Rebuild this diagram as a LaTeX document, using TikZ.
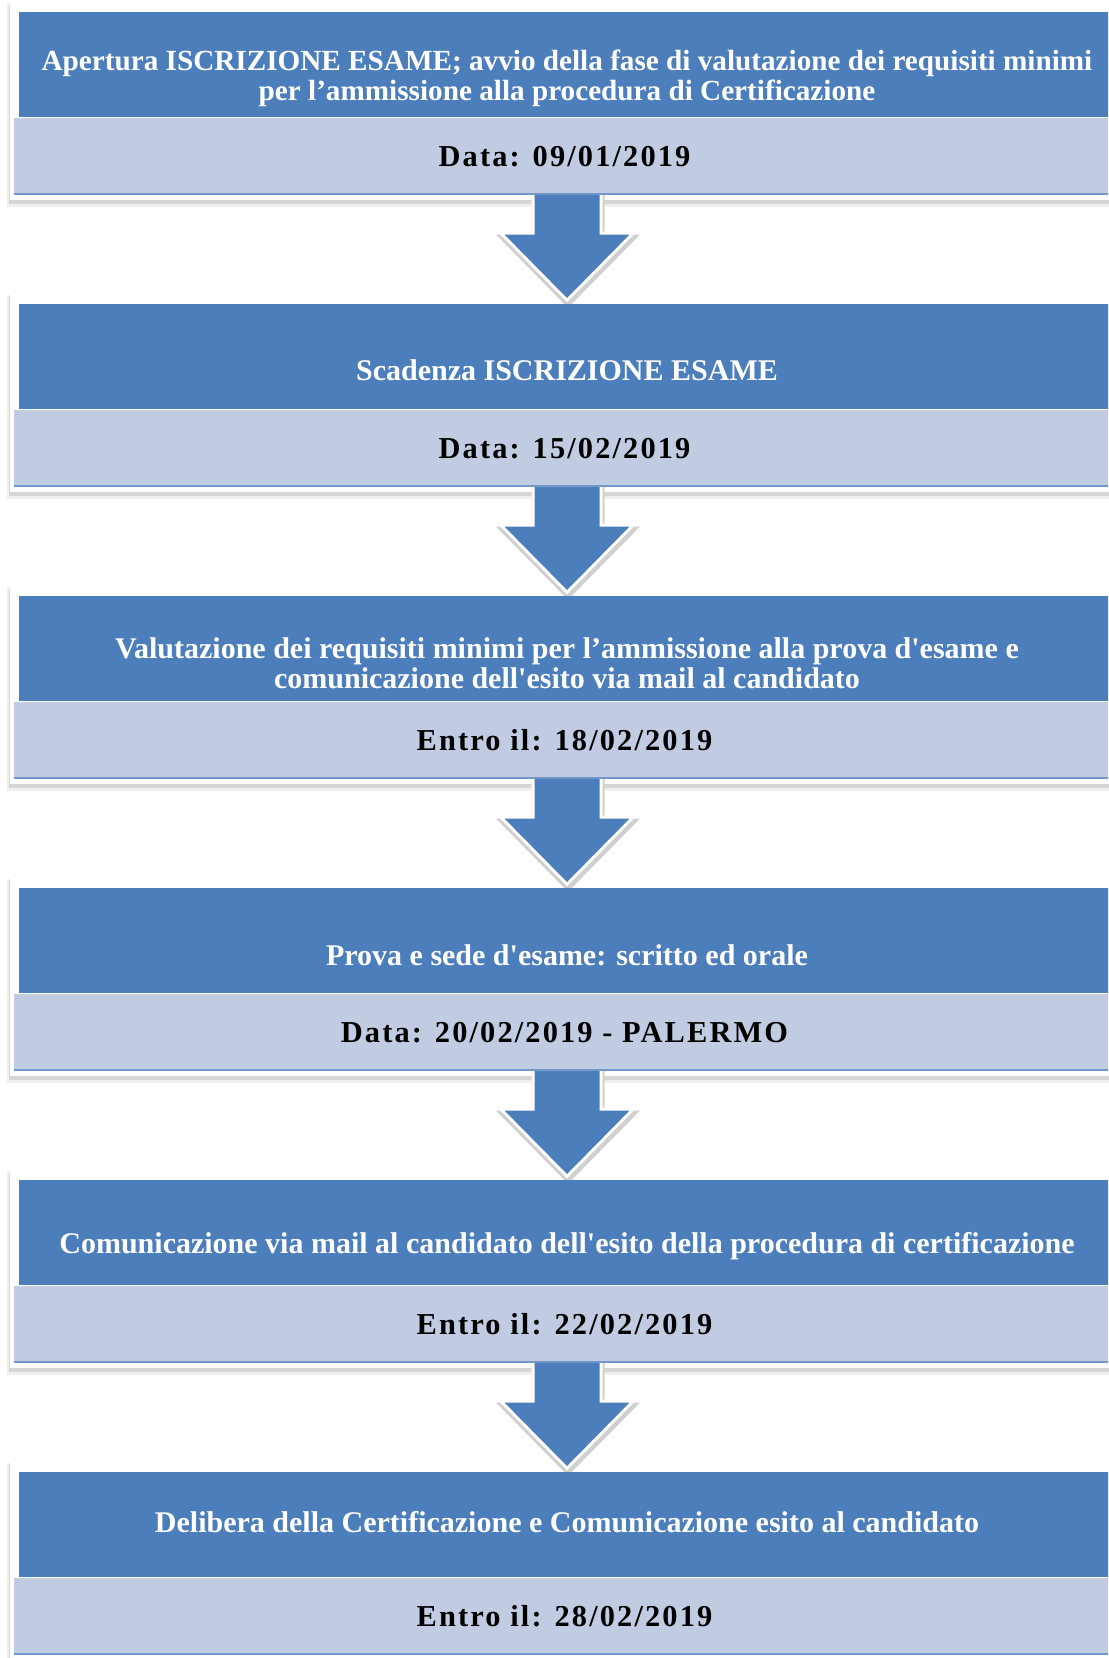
\documentclass[tikz,border=0pt]{standalone}
\usepackage{fontspec}
\setmainfont{Liberation Serif}
\newfontfamily\datafont[LetterSpace=7]{Liberation Serif}
\usetikzlibrary{calc}
\definecolor{bluscuro}{RGB}{76,126,187}
\definecolor{bluchiaro}{RGB}{193,204,226}
\definecolor{ombra}{RGB}{120,120,120}

\pgfdeclarelayer{sfondo}
\pgfsetlayers{sfondo,main}

\tikzset{
  fase/.style={fill=bluscuro, minimum width=548pt, minimum height=52.5pt, inner sep=0pt, anchor=north},
  data/.style={fill=bluchiaro, minimum width=550.5pt, minimum height=38pt, inner sep=0pt, anchor=north east,
    font=\datafont\bfseries\fontsize{15.2}{18}\selectfont},
  titolo/.style={text=white, font=\bfseries\fontsize{15}{15}\selectfont, align=center, inner sep=0pt},
  bordo/.style={bluscuro!80, line width=1pt},
}

\begin{document}
\begin{tikzpicture}[x=0.5pt, y=-0.5pt]

\path[use as bounding box, clip] (0,0) rectangle (1108,1658);

% =============================================================================
% CORNICI BIANCHE CON OMBRA
% =============================================================================
\begin{pgfonlayer}{sfondo}
\foreach \t in {12,304,596,888,1180,1472} {
    \fill[ombra!12] (7,\t-9) rectangle (1120,\t+195);
    \fill[ombra!30] (9,\t-7) rectangle (1120,\t+192);
    \fill[white] (10,\t-9) rectangle (1120,\t+188);
}
\end{pgfonlayer}

% =============================================================================
% FASI
% =============================================================================
% Fase 1
\node[fase] (fase1) at (567,12) {};
\node[titolo, font=\bfseries\fontsize{14.6}{15}\selectfont] (titolo1) at ([yshift=-6.75pt]fase1.center)
    {Apertura ISCRIZIONE ESAME; avvio della fase di valutazione dei requisiti minimi\\
     per l’ammissione alla procedura di Certificazione};
\node[data] (data1) at (fase1.south east) {Data: 09/01/2019};

% Fase 2
\node[fase] (fase2) at (567,304) {};
\node[titolo] (titolo2) at ([yshift=-6.75pt]fase2.center) {Scadenza ISCRIZIONE ESAME};
\node[data] (data2) at (fase2.south east) {Data: 15/02/2019};

% Fase 3
\node[fase] (fase3) at (567,596) {};
\node[titolo] (titolo3) at ([yshift=-7pt]fase3.center)
    {Valutazione dei requisiti minimi per l’ammissione alla prova d\textquotesingle esame e\\
     comunicazione dell\textquotesingle esito via mail al candidato};
\node[data] (data3) at (fase3.south east) {Entro il: 18/02/2019};

% Fase 4
\node[fase] (fase4) at (567,888) {};
\node[titolo] (titolo4) at ([yshift=-7pt]fase4.center) {Prova e sede d\textquotesingle esame: scritto ed orale};
\node[data] (data4) at (fase4.south east) {Data: 20/02/2019 - PALERMO};

% Fase 5
\node[fase] (fase5) at (567,1180) {};
\node[titolo] (titolo5) at ([yshift=-6.75pt]fase5.center)
    {Comunicazione via mail al candidato dell\textquotesingle esito della procedura di certificazione};
\node[data] (data5) at (fase5.south east) {Entro il: 22/02/2019};

% Fase 6
\node[fase] (fase6) at (567,1472) {};
\node[titolo] (titolo6) at ([yshift=1.25pt]fase6.center)
    {Delibera della Certificazione e Comunicazione esito al candidato};
\node[data] (data6) at (fase6.south east) {Entro il: 28/02/2019};

% Filo blu sotto le date
\foreach \i in {1,...,6} {
    \draw[bordo] ([yshift=0.5pt]data\i.south west) -- ([yshift=0.5pt]data\i.south east);
}

% =============================================================================
% FRECCE
% =============================================================================
\foreach \i [evaluate=\i as \j using int(\i+1)] in {1,...,5} {
    \coordinate (a) at (fase\i.south |- data\i.south);
    \coordinate (b) at (fase\j.north);
    \coordinate (s1) at ($(a)+(-32.5,0)$);
    \coordinate (s2) at ($(a)+(-32.5,40)$);
    \coordinate (h1) at ($(a)+(-62.5,40)$);
    \coordinate (p)  at ($(b)+(0,-6)$);
    \coordinate (h2) at ($(a)+(62.5,40)$);
    \coordinate (s3) at ($(a)+(32.5,40)$);
    \coordinate (s4) at ($(a)+(32.5,0)$);
    \begin{pgfonlayer}{sfondo}
    \filldraw[ombra!35, line width=4pt, transform canvas={shift={(0.5pt,-2pt)}}]
        (s1) -- (s2) -- (h1) -- (p) -- (h2) -- (s3) -- (s4) -- cycle;
    \draw[white, line width=3pt] (s1) -- (s2) -- (h1) -- (p) -- (h2) -- (s3) -- (s4);
    \fill[bluscuro] (s1) -- (s2) -- (h1) -- (p) -- (h2) -- (s3) -- (s4) -- cycle;
    \end{pgfonlayer}
}

\end{tikzpicture}
\end{document}
